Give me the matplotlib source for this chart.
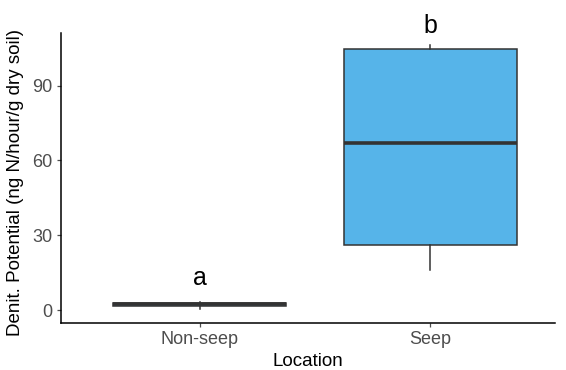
import matplotlib.pyplot as plt

plt.rcParams['font.family'] = ['Liberation Sans', 'DejaVu Sans']

# Denitrification potential summary per location
locations = ['Non-seep', 'Seep']
whislo = [0.6, 16.0]
q1 = [1.6, 26.2]
med = [2.3, 67.0]
q3 = [3.0, 104.8]
whishi = [3.2, 106.5]
letters = ['a', 'b']
letter_y = [13.0, 114.0]

stats = []
for i, name in enumerate(locations):
    stats.append({'label': name, 'whislo': whislo[i], 'q1': q1[i], 'med': med[i],
                  'q3': q3[i], 'whishi': whishi[i], 'fliers': []})

fig = plt.figure(figsize=(5.66, 3.70), dpi=100)
ax = fig.add_axes([0.108, 0.127, 0.872, 0.783])

edge = '#333333'
bp = ax.bxp(stats, positions=[1, 2], widths=0.75, patch_artist=True, showcaps=False,
            boxprops=dict(facecolor='#56B4E9', edgecolor=edge, linewidth=1.1),
            whiskerprops=dict(color=edge, linewidth=1.1),
            medianprops=dict(color=edge, linewidth=2.6, solid_capstyle='butt'))

for i, t in enumerate(letters):
    ax.text(i + 1, letter_y[i], t, ha='center', va='center', fontsize=18, clip_on=False)

ax.set_xlim(0.4, 2.54)
ax.set_ylim(-5.2, 111)
ax.set_yticks([0, 30, 60, 90])
ax.set_xlabel('Location', fontsize=13.5, color='black')
ax.set_ylabel('Denit. Potential (ng N/hour/g dry soil)', fontsize=13.5, color='black')
ax.xaxis.set_label_coords(0.5, -0.105)
ax.yaxis.set_label_coords(-0.075, 0.485)
ax.tick_params(labelsize=13, colors='#4D4D4D', length=3, width=0.9, pad=3)
for s in ['top', 'right']:
    ax.spines[s].set_visible(False)
for s in ['left', 'bottom']:
    ax.spines[s].set_linewidth(1.1)
    ax.spines[s].set_color('black')

fig.savefig('out.png', dpi=100)
